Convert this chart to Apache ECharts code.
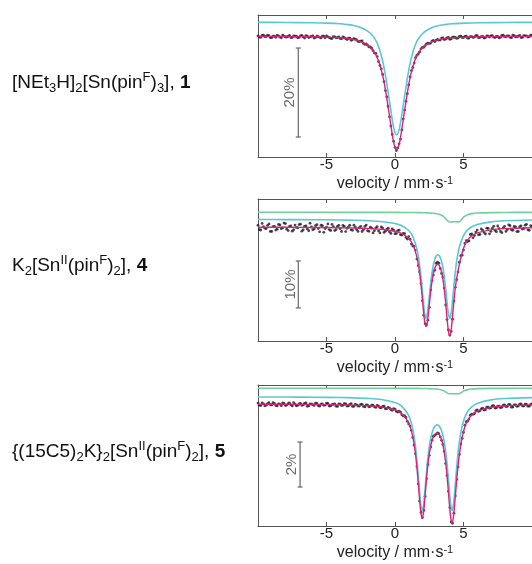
<!DOCTYPE html>
<html><head><meta charset="utf-8">
<script src="https://cdn.jsdelivr.net/npm/echarts@6/dist/echarts.min.js"></script>
<style>html,body{margin:0;padding:0;background:#fff}#c{width:532px;height:564px}</style>
</head><body><div id="c"></div>
<script>
// measured velocities of data points (mm/s), two interleaved channel sets
const dataV = [-10,-9.8,-9.6,-9.4,-9.2,-9,-8.8,-8.6,-8.4,-8.2,-8,-7.8,-7.6,-7.4,-7.2,-7,-6.8,-6.6,-6.4,-6.2,-6,-5.8,-5.6,-5.4,-5.2,-5,-4.8,-4.6,-4.4,-4.2,-4,-3.8,-3.6,-3.4,-3.2,-3,-2.8,-2.6,-2.4,-2.2,-2,-1.8,-1.6,-1.4,-1.2,-1,-0.8,-0.6,-0.4,-0.2,0,0.2,0.4,0.6,0.8,1,1.2,1.4,1.6,1.8,2,2.2,2.4,2.6,2.8,3,3.2,3.4,3.6,3.8,4,4.2,4.4,4.6,4.8,5,5.2,5.4,5.6,5.8,6,6.2,6.4,6.6,6.8,7,7.2,7.4,7.6,7.8,8,8.2,8.4,8.6,8.8,9,9.2,9.4,9.6,9.8,10];
const dataVb = [-9.9,-9.7,-9.5,-9.3,-9.1,-8.9,-8.7,-8.5,-8.3,-8.1,-7.9,-7.7,-7.5,-7.3,-7.1,-6.9,-6.7,-6.5,-6.3,-6.1,-5.9,-5.7,-5.5,-5.3,-5.1,-4.9,-4.7,-4.5,-4.3,-4.1,-3.9,-3.7,-3.5,-3.3,-3.1,-2.9,-2.7,-2.5,-2.3,-2.1,-1.9,-1.7,-1.5,-1.3,-1.1,-0.9,-0.7,-0.5,-0.3,-0.1,0.1,0.3,0.5,0.7,0.9,1.1,1.3,1.5,1.7,1.9,2.1,2.3,2.5,2.7,2.9,3.1,3.3,3.5,3.7,3.9,4.1,4.3,4.5,4.7,4.9,5.1,5.3,5.5,5.7,5.9,6.1,6.3,6.5,6.7,6.9,7.1,7.3,7.5,7.7,7.9,8.1,8.3,8.5,8.7,8.9,9.1,9.3,9.5,9.7,9.9];

// relative transmission (%) of measured points
const data1 = [100.04,99.72,100.17,99.87,100.09,99.63,99.96,100.12,99.75,100.2,99.8,99.92,99.64,100.03,99.95,99.68,100.13,99.55,99.94,99.81,100.02,99.69,99.85,99.56,99.94,100.03,99.65,99.44,99.8,99.64,99.44,99.8,99.43,99.49,99.02,99.41,99.12,98.74,98.88,98.1,97.93,97.55,96.7,96.1,94.26,92.61,89.74,86.3,81.83,77.87,74.97,74.85,76.83,81.34,85.31,89.0,92.23,93.91,95.68,96.41,97.46,97.84,98.38,98.42,98.99,99.04,99.09,99.53,99.21,99.55,99.25,99.76,99.68,99.54,99.95,99.66,99.95,99.54,99.88,99.79,100.08,99.67,99.89,99.63,99.97,100.05,99.77,99.89,99.6,100.11,99.86,100.03,99.72,100.2,99.79,99.96,99.66,100.09,100.01,99.86,100.16];
const data1b = [99.77,100.14,99.84,100.18,99.66,99.96,99.72,100.04,99.61,99.99,99.78,100.13,99.68,99.94,99.6,100.04,99.81,100.09,99.66,99.93,99.54,99.96,99.7,99.98,99.61,99.82,99.48,99.83,99.6,99.82,99.41,99.63,99.22,99.51,99.19,99.31,98.79,98.87,98.34,98.22,97.55,97.27,96.16,95.37,93.37,91.35,87.74,84.18,79.75,76.34,74.27,75.78,78.9,83.35,87.02,90.8,92.95,95.13,95.97,97.12,97.47,98.24,98.31,98.86,98.73,99.23,99.09,99.55,99.33,99.66,99.34,99.72,99.5,99.91,99.64,99.92,99.51,99.87,99.66,100.06,99.62,99.88,99.55,100.01,99.75,100.09,99.65,99.91,99.72,100.17,99.81,100.03,99.63,100.09,99.86,100.12,99.68,100.02,99.75,100.17];
const data2 = [100.36,99.36,100.06,99.65,100.65,99.05,100.15,99.54,100.44,99.84,100.74,99.23,100.23,99.42,99.92,100.52,99.11,100.11,99.6,100.8,99.4,100.29,99.68,100.38,98.87,99.96,99.46,100.55,99.25,100.15,99.65,100.33,99.02,100.01,99.4,100.39,99.47,99.85,99.04,100.12,99.2,99.97,98.74,99.8,99.16,100.01,98.85,99.47,98.99,99.59,98.58,99.23,98.33,98.66,97.79,97.97,96.36,95.88,93.18,90.42,84.3,79.44,80.17,86.59,89.77,92.26,92.29,90.13,87.0,80.3,77.0,80.38,87.16,90.4,93.9,95.1,97.1,97.04,98.53,98.19,99.34,98.43,99.28,98.51,99.7,99.09,100.14,98.99,99.63,98.8,100.14,99.46,100.28,99.3,100.02,99.04,100.25,99.67,100.58,99.29,100.02];
const data2b = [99.46,100.76,99.76,100.36,99.06,100.05,99.35,100.54,99.64,100.84,99.53,100.13,99.12,100.42,99.82,100.61,99.41,100.21,99.2,100.0,99.59,100.49,98.98,100.27,99.67,100.66,99.26,100.05,99.45,100.35,99.04,100.13,99.72,100.4,99.29,99.98,99.06,100.15,99.43,100.41,99.09,99.76,99.22,100.08,98.74,99.78,99.11,99.73,98.64,99.34,98.6,99.33,98.3,98.58,97.45,97.4,95.95,95.1,91.8,88.0,81.2,79.2,82.9,88.6,90.8,92.5,91.18,89.37,83.4,78.1,77.8,84.24,88.8,92.5,94.0,96.5,96.92,98.4,97.7,98.92,98.34,99.6,98.85,99.76,98.55,99.72,99.27,100.21,99.07,99.82,99.05,100.47,99.39,100.11,99.03,100.05,99.56,100.38,99.39,100.31];
const data3 = [100.039,99.929,100.008,99.948,100.057,99.957,100.026,99.916,99.995,100.045,99.935,100.014,99.963,100.062,99.921,100.0,99.94,100.029,99.898,100.008,99.968,100.036,99.925,99.993,99.941,100.039,99.907,99.976,100.004,99.893,99.992,99.94,100.007,99.915,100.012,99.898,99.964,99.909,99.984,99.868,99.952,99.895,99.947,99.847,99.905,99.83,99.9,99.796,99.82,99.72,99.767,99.644,99.633,99.463,99.4,99.112,98.828,98.17,97.214,95.679,94.953,95.895,97.307,98.093,98.566,98.665,98.679,98.385,97.899,96.818,95.399,94.695,95.911,97.2,98.22,98.74,99.211,99.331,99.549,99.575,99.735,99.707,99.815,99.747,99.863,99.832,99.925,99.825,99.905,99.86,99.964,99.89,99.966,99.861,99.956,99.91,100.004,99.908,99.982,99.905,99.999];
const data3b = [99.949,100.048,99.918,100.017,99.967,100.056,99.936,100.005,99.925,100.025,99.954,100.043,99.912,99.991,99.94,100.03,99.959,100.048,99.918,99.998,99.937,100.025,99.904,100.002,99.95,100.028,99.916,99.985,99.903,100.002,99.931,100.018,99.906,99.983,99.89,99.986,99.911,99.986,99.891,99.955,99.868,99.951,99.872,99.941,99.838,99.89,99.788,99.853,99.755,99.793,99.67,99.68,99.519,99.48,99.23,99.02,98.511,97.784,96.44,95.18,95.27,96.68,97.72,98.39,98.605,98.71,98.54,98.21,97.35,96.12,94.76,95.15,96.64,97.76,98.47,99.06,99.237,99.5,99.54,99.7,99.67,99.787,99.73,99.86,99.813,99.919,99.82,99.9,99.833,99.947,99.887,99.983,99.859,99.964,99.898,99.992,99.916,99.99,99.904,99.987];

// fitted curves (velocity grids and values)
const fitV1 = [-10,-8,-6,-5,-4,-3.5,-3,-2.5,-2,-1.8,-1.6,-1.4,-1.2,-1,-0.9,-0.8,-0.7,-0.6,-0.5,-0.4,-0.3,-0.2,-0.1,0,0.12,0.24,0.34,0.44,0.54,0.64,0.74,0.84,0.94,1.04,1.14,1.24,1.34,1.54,1.74,1.94,2.14,2.64,3.14,3.64,4.14,5.14,6.14,8.14,10];
const total1 = [99.92,99.9,99.82,99.75,99.6,99.44,99.22,98.75,97.93,97.44,96.75,95.83,94.42,92.37,91.17,89.68,87.94,86.05,84.03,81.98,79.93,77.88,76.14,74.99,74.4,74.99,76.14,77.88,79.93,81.98,84.03,86.05,87.94,89.68,91.17,92.37,93.52,95.25,96.36,97.12,97.73,98.62,99.14,99.41,99.59,99.74,99.82,99.9,99.92];
const sub1 = [103.07,103.05,102.97,102.9,102.76,102.6,102.38,101.91,101.09,100.61,99.92,99.01,97.61,95.58,94.39,92.91,91.19,89.31,87.3,85.27,83.24,81.2,79.48,78.33,77.75,78.33,79.48,81.2,83.24,85.27,87.3,89.31,91.19,92.91,94.39,95.58,96.72,98.44,99.54,100.29,100.9,101.78,102.3,102.56,102.75,102.9,102.97,103.05,103.07];

const fitV2 = [-10,-8,-6,-4,-3,-2,-1,0,0.5,1,1.3,1.6,1.8,1.96,2.06,2.16,2.26,2.36,2.46,2.56,2.66,2.76,2.86,2.96,3.06,3.13,3.2,3.3,3.4,3.5,3.6,3.7,3.8,3.9,4.0,4.1,4.2,4.3,4.4,4.5,4.7,5.0,5.3,5.6,6,7,8,10];
const total2 = [99.96,99.94,99.91,99.85,99.79,99.7,99.51,99.09,98.61,97.58,96.26,93.59,90.13,85.86,82.71,79.99,78.79,79.73,82.19,85.05,87.56,89.46,90.8,91.63,92.04,92.08,91.94,91.4,90.4,88.85,86.68,83.83,80.59,77.82,76.79,78.11,80.98,84.19,86.96,89.06,92.09,95.49,97.24,98.12,98.75,99.4,99.65,99.83];
const sub2 = [101.6,101.58,101.55,101.5,101.44,101.35,101.17,100.75,100.28,99.26,97.95,95.29,91.84,87.58,84.44,81.73,80.54,81.49,83.96,86.84,89.37,91.3,92.67,93.54,93.99,94.08,93.99,93.54,92.67,91.3,89.37,86.84,83.96,81.49,80.54,81.73,84.44,87.58,90.42,92.68,95.76,98.18,99.38,100.04,100.55,101.1,101.32,101.48];
const minor2 = [103.13,103.13,103.13,103.12,103.12,103.12,103.11,103.11,103.1,103.09,103.08,103.07,103.06,103.05,103.04,103.03,103.02,103.01,103.0,102.98,102.96,102.93,102.9,102.86,102.82,102.77,102.72,102.63,102.5,102.32,102.08,101.76,101.42,101.16,101.08,101.08,101.1,101.12,101.12,101.1,101.14,102.08,102.63,102.85,102.97,103.07,103.1,103.12];

const fitV3 = [-10,-8,-6,-4,-3,-2,-1,0,0.5,1,1.3,1.5,1.68,1.78,1.88,1.98,2.08,2.18,2.28,2.38,2.48,2.58,2.68,2.78,2.88,2.98,3.075,3.17,3.27,3.37,3.47,3.57,3.67,3.77,3.87,3.97,4.07,4.17,4.27,4.37,4.47,4.57,4.67,4.85,5.05,5.3,5.6,6,7,8,10];
const total3 = [99.989,99.985,99.978,99.962,99.948,99.922,99.87,99.737,99.569,99.152,98.541,97.754,96.617,95.858,95.204,94.924,95.171,95.792,96.517,97.165,97.671,98.05,98.32,98.507,98.625,98.688,98.705,98.676,98.599,98.464,98.254,97.955,97.537,96.986,96.297,95.551,94.939,94.711,95.003,95.653,96.393,97.06,97.608,98.361,98.892,99.269,99.513,99.685,99.852,99.914,99.959];
const sub3 = [100.314,100.31,100.302,100.287,100.273,100.248,100.197,100.064,99.897,99.482,98.872,98.086,96.95,96.192,95.539,95.26,95.508,96.13,96.857,97.506,98.014,98.396,98.668,98.859,98.98,99.048,99.07,99.048,98.98,98.859,98.668,98.396,98.014,97.506,96.857,96.13,95.508,95.26,95.539,96.192,96.95,97.636,98.183,98.872,99.327,99.654,99.871,100.027,100.184,100.242,100.285];
const minor3 = [100.7,100.7,100.7,100.699,100.699,100.699,100.698,100.697,100.696,100.695,100.694,100.693,100.692,100.692,100.691,100.69,100.689,100.688,100.687,100.685,100.683,100.681,100.679,100.676,100.672,100.667,100.661,100.653,100.643,100.629,100.61,100.583,100.547,100.506,100.472,100.455,100.452,100.452,100.454,100.455,100.455,100.453,100.455,100.513,100.589,100.639,100.666,100.681,100.693,100.696,100.698];

// scale bars (velocity position, top and bottom in %)
const barX = [-7.06, -7.06, -6.93];
const barTop = [97.3, 92.77, 98.31];
const barBottom = [77.3, 82.77, 96.31];
const barLabelX = [-7.66, -7.6, -7.55];
const barLabels = ['20%', '10%', '2%'];

// axis ranges
const yMin = [72.81, 75.74, 94.578];
const yMax = [104.72, 105.96, 100.844];
const xTicks = {min: -10, max: 10, interval: 5};

const compoundLabels = [
  '[NEt{sub|3}H]{sub|2}[Sn(pin{sup|F}){sub|3}], {b|1}',
  'K{sub|2}[Sn{sup|II}(pin{sup|F}){sub|2}], {b|4}',
  '{(15C5){sub|2}K}{sub|2}[Sn{sup|II}(pin{sup|F}){sub|2}], {b|5}'
];

const FONT = 'Liberation Sans, Arial, Helvetica, sans-serif';
const gridTops = [15, 199, 385];
const gridHeights = [142, 142, 141];
const titleTops = [71, 254, 440];

const zip = (xs, ys) => xs.map((x, i) => [x, ys[i]]);

const grids = [], xAxes = [], yAxes = [], series = [], titles = [];
const dataSets = [[data1, data1b], [data2, data2b], [data3, data3b]];
const fits = [[fitV1, total1, sub1, null], [fitV2, total2, sub2, minor2], [fitV3, total3, sub3, minor3]];

for (let p = 0; p < 3; p++) {
  grids.push({left: 258, width: 274, top: gridTops[p], height: gridHeights[p], containLabel: false});
  const axisLineStyle = {color: '#555', width: 1};
  xAxes.push({
    type: 'value', gridIndex: p, position: 'bottom', min: xTicks.min, max: xTicks.max, interval: xTicks.interval,
    axisLine: {show: true, onZero: false, lineStyle: axisLineStyle},
    axisTick: {show: true, inside: true, length: 4, lineStyle: axisLineStyle},
    splitLine: {show: false},
    axisLabel: {show: true, showMinLabel: false, showMaxLabel: false, margin: 0, fontSize: 15, color: '#222', fontFamily: FONT},
    name: 'velocity / mm·s{sup|-1}', nameLocation: 'middle', nameGap: 18,
    nameTextStyle: {fontSize: 16, color: '#222', fontFamily: FONT, lineHeight: 18,
      rich: {sup: {fontSize: 11, color: '#222', fontFamily: FONT, verticalAlign: 'top', lineHeight: 10}}}
  });
  xAxes.push({
    type: 'value', gridIndex: p, position: 'top', min: xTicks.min, max: xTicks.max, interval: xTicks.interval,
    axisLine: {show: true, onZero: false, lineStyle: axisLineStyle},
    axisTick: {show: true, inside: true, length: 4, lineStyle: axisLineStyle},
    splitLine: {show: false}, axisLabel: {show: false}
  });
  yAxes.push({
    type: 'value', gridIndex: p, min: yMin[p], max: yMax[p],
    axisLine: {show: true, onZero: false, lineStyle: axisLineStyle},
    axisTick: {show: false}, axisLabel: {show: false}, splitLine: {show: false}
  });
  const xi = p * 2;
  series.push({
    type: 'scatter', xAxisIndex: xi, yAxisIndex: p, data: zip(dataV, dataSets[p][0]).concat(zip(dataVb, dataSets[p][1])),
    symbolSize: 2.8, itemStyle: {color: '#1b1b1b'}, z: 2, silent: true
  });
  const [fv, tot, sub, minor] = fits[p];
  series.push({
    type: 'line', xAxisIndex: xi, yAxisIndex: p, data: zip(fv, sub), smooth: 0.3, showSymbol: false,
    lineStyle: {color: '#5cc6d9', width: 1.6}, z: 3, silent: true
  });
  if (minor) {
    series.push({
      type: 'line', xAxisIndex: xi, yAxisIndex: p, data: zip(fv, minor), smooth: 0.3, showSymbol: false,
      lineStyle: {color: '#72cf9e', width: 1.6}, z: 3, silent: true
    });
  }
  series.push({
    type: 'line', xAxisIndex: xi, yAxisIndex: p, data: zip(fv, tot), smooth: 0.3, showSymbol: false,
    lineStyle: {color: '#d8237f', width: 1.4}, z: 4, silent: true
  });
  series.push({
    type: 'line', xAxisIndex: xi, yAxisIndex: p, data: [[barX[p], barTop[p]], [barX[p], barBottom[p]]],
    symbol: 'rect', symbolSize: [5, 1.2], showSymbol: true, itemStyle: {color: '#666'},
    lineStyle: {color: '#666', width: 1.2}, z: 3, silent: true
  });
  series.push({
    type: 'scatter', xAxisIndex: xi, yAxisIndex: p, data: [[barLabelX[p], (barTop[p] + barBottom[p]) / 2]],
    symbolSize: 1, itemStyle: {color: 'rgba(0,0,0,0)'}, z: 5, silent: true,
    label: {show: true, position: 'inside', rotate: 90, formatter: barLabels[p], fontSize: 15, color: '#444', fontFamily: FONT}
  });
  titles.push({
    left: 12, top: titleTops[p], padding: 0, text: compoundLabels[p],
    textStyle: {fontFamily: FONT, fontSize: 19, fontWeight: 'normal', color: '#111', lineHeight: 24,
      rich: {
        sub: {fontSize: 13, fontFamily: FONT, color: '#111', verticalAlign: 'bottom', lineHeight: 12},
        sup: {fontSize: 13, fontFamily: FONT, color: '#111', verticalAlign: 'top', lineHeight: 12},
        b: {fontSize: 19, fontFamily: FONT, fontWeight: 'bold', color: '#111'}
      }}
  });
}

const chart = echarts.init(document.getElementById('c'), null, {renderer: 'canvas'});
chart.setOption({
  animation: false,
  backgroundColor: '#fff',
  title: titles,
  grid: grids,
  xAxis: xAxes,
  yAxis: yAxes,
  series: series
});
</script></body></html>
